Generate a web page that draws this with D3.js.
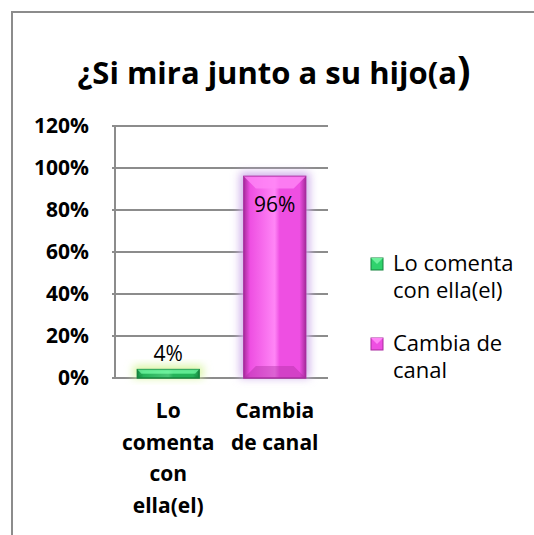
<!DOCTYPE html>
<html>
<head>
<meta charset="utf-8">
<script src="https://cdn.jsdelivr.net/npm/d3@7"></script>
<style>
  body { margin: 0; background: #fff; }
  text { font-family: "Open Sans", Lato, sans-serif; fill: #000; }
</style>
</head>
<body>
<svg width="534" height="535"></svg>
<script>
// data
var categories = ["Lo comenta con ella(el)", "Cambia de canal"];
var axisLabels = [["Lo", "comenta", "con", "ella(el)"], ["Cambia", "de canal"]];
var legendLabels = [["Lo comenta", "con ella(el)"], ["Cambia de", "canal"]];
var values = [0.04, 0.96];
var yTicks = [0, 0.2, 0.4, 0.6, 0.8, 1.0, 1.2];

var colors = [
  {main: "#2fd26c", light: "#6df09c", dark: "#17843e", glow: "#d8f5a0"},
  {main: "#ee4fe2", light: "#ff86f6", dark: "#a92c9f", glow: "#cfb0ea"}
];

var svg = d3.select("svg");
var defs = svg.append("defs");
defs.append("filter").attr("id", "glow")
  .attr("x", "-50%").attr("y", "-50%").attr("width", "200%").attr("height", "200%")
  .append("feGaussianBlur").attr("stdDeviation", 4);

colors.forEach(function(c, i) {
  var g = defs.append("linearGradient").attr("id", "grad" + i)
    .attr("x1", 0).attr("x2", 1).attr("y1", 0).attr("y2", 0);
  g.append("stop").attr("offset", "0%").attr("stop-color", c.dark);
  g.append("stop").attr("offset", "10%").attr("stop-color", c.main);
  g.append("stop").attr("offset", "50%").attr("stop-color", c.light);
  g.append("stop").attr("offset", "58%").attr("stop-color", c.main);
  g.append("stop").attr("offset", "90%").attr("stop-color", c.main);
  g.append("stop").attr("offset", "100%").attr("stop-color", c.dark);
});

// outer frame
svg.append("path")
  .attr("d", "M12,535 V12 H534")
  .attr("fill", "none").attr("stroke", "#8c8c8c").attr("stroke-width", 2);

// title
svg.append("text")
  .attr("x", 274).attr("y", 84)
  .attr("text-anchor", "middle")
  .style("font-size", "31px").style("font-weight", "bold")
  .html("¿Si mira junto a su hijo(a<tspan style='font-size:40px'>)</tspan>");

var pLeft = 115, pRight = 328, pTop = 126, pBottom = 378;

var x = d3.scaleBand().domain(categories).range([pLeft, pRight]).paddingInner(0.42).paddingOuter(0.21);
var y = d3.scaleLinear().domain([0, 1.2]).range([pBottom, pTop]);

// grid
svg.append("g").selectAll("line").data(yTicks).enter().append("line")
  .attr("x1", pLeft - 3).attr("x2", pRight)
  .attr("y1", function(d) { return y(d); }).attr("y2", function(d) { return y(d); })
  .attr("stroke", "#8c8c8c").attr("stroke-width", 2);

svg.append("line")
  .attr("x1", pLeft).attr("x2", pLeft).attr("y1", pTop).attr("y2", pBottom)
  .attr("stroke", "#8c8c8c").attr("stroke-width", 2);

// y labels
svg.append("g").selectAll("text").data(yTicks).enter().append("text")
  .attr("x", 89).attr("y", function(d) { return y(d) + 7; })
  .attr("text-anchor", "end")
  .style("font-size", "21px").style("font-weight", "bold")
  .text(function(d) { return d3.format(".0%")(d); });

// bars
var bars = svg.append("g").selectAll("g").data(values).enter().append("g");

bars.append("rect")
  .attr("x", function(d, i) { return x(categories[i]) - 4; })
  .attr("y", function(d) { return y(d) - 4; })
  .attr("width", x.bandwidth() + 8)
  .attr("height", function(d) { return pBottom - y(d) + 4; })
  .attr("fill", function(d, i) { return colors[i].glow; })
  .attr("filter", "url(#glow)");

bars.append("rect")
  .attr("x", function(d, i) { return x(categories[i]); })
  .attr("y", function(d) { return y(d); })
  .attr("width", x.bandwidth())
  .attr("height", function(d) { return pBottom - y(d); })
  .attr("fill", function(d, i) { return "url(#grad" + i + ")"; })
  .attr("stroke", function(d, i) { return colors[i].dark; })
  .attr("stroke-width", 1.5);

// bevel top
bars.append("path")
  .attr("d", function(d, i) {
    var x0 = x(categories[i]), x1 = x0 + x.bandwidth(), y0 = y(d);
    var b = Math.min(12, (pBottom - y0) / 2);
    return "M" + x0 + "," + y0 + " L" + x1 + "," + y0 + " L" + (x1 - b) + "," + (y0 + b) + " L" + (x0 + b) + "," + (y0 + b) + "Z";
  })
  .attr("fill", function(d, i) { return colors[i].light; })
  .attr("opacity", 0.8);

// bevel bottom
bars.append("path")
  .attr("d", function(d, i) {
    var x0 = x(categories[i]), x1 = x0 + x.bandwidth(), y0 = y(d);
    var b = Math.min(12, (pBottom - y0) / 2);
    return "M" + x0 + "," + pBottom + " L" + x1 + "," + pBottom + " L" + (x1 - b) + "," + (pBottom - b) + " L" + (x0 + b) + "," + (pBottom - b) + "Z";
  })
  .attr("fill", function(d, i) { return colors[i].dark; })
  .attr("opacity", 0.4);

// value labels
bars.append("text")
  .attr("x", function(d, i) { return x(categories[i]) + x.bandwidth() / 2; })
  .attr("y", function(d, i) { return i == 0 ? y(d) - 9 : y(d) + 36; })
  .attr("text-anchor", "middle")
  .style("font-size", "21px")
  .text(function(d) { return d3.format(".0%")(d); });

// x labels
var xl = svg.append("g").selectAll("text").data(categories).enter().append("text")
  .attr("text-anchor", "middle")
  .style("font-size", "21px").style("font-weight", "bold");
xl.each(function(c, i) {
  var t = d3.select(this);
  axisLabels[i].forEach(function(line, j) {
    t.append("tspan")
      .attr("x", x(c) + x.bandwidth() / 2)
      .attr("y", 418 + j * 31.5)
      .text(line);
  });
});

// legend
var leg = svg.append("g").selectAll("g").data(categories).enter().append("g")
  .attr("transform", function(d, i) { return "translate(371," + (258 + i * 80) + ")"; });
leg.append("rect")
  .attr("width", 12).attr("height", 12)
  .attr("fill", function(d, i) { return colors[i].main; })
  .attr("stroke", function(d, i) { return colors[i].dark; });
leg.append("path")
  .attr("d", "M0,0 L12,0 L6,6 Z")
  .attr("fill", function(d, i) { return colors[i].light; });
leg.append("text")
  .style("font-size", "22px")
  .each(function(d, i) {
    var t = d3.select(this);
    legendLabels[i].forEach(function(line, j) {
      t.append("tspan").attr("x", 22).attr("y", 13 + j * 27).text(line);
    });
  });
</script>
</body>
</html>
